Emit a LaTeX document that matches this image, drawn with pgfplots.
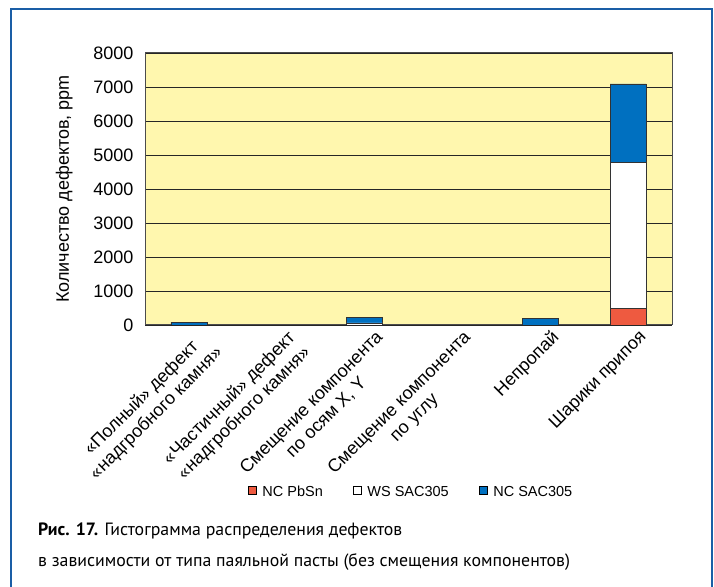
\documentclass[border=0pt]{standalone}
\usepackage{fontspec}
\setmainfont{Liberation Sans}
\newfontfamily\capfont{PT Sans}
\usepackage{pgfplots}
\pgfplotsset{compat=1.18}
\definecolor{bg}{HTML}{FFF7AE}
\definecolor{cred}{HTML}{EE5A40}
\definecolor{cblue}{HTML}{0070C0}
\definecolor{framec}{HTML}{1A5EA6}
\pgfplotsset{sqleg/.style={legend image code/.code={\draw[##1,draw=black,line width=0.5pt] (0pt,-2pt) rectangle (8pt,6pt);}}}
\begin{document}
\begin{tikzpicture}[x=1pt,y=1pt]
\useasboundingbox (0,0) rectangle (714,586);
\fill[white] (0,0) rectangle (714,586);
\draw[framec, line width=2.5pt] (11,-10) -- (11,577) -- (712,577) -- (712,-10);
\begin{axis}[
  at={(145pt,261pt)}, anchor=south west,
  scale only axis, width=527pt, height=272pt,
  xmin=-0.5, xmax=5.5, ymin=0, ymax=8000,
  ytick={0,1000,...,8000},
  xtick={0,...,5},
  xticklabels={{«Полный» дефект\\«надгробного камня»},{«Частичный» дефект\\«надгробного камня»},{Смещение компонента\\по осям X, Y},{Смещение компонента\\по углу},{Непропай},{Шарики припоя}},
  xticklabel style={xshift=10pt, yshift=-4pt, rotate=45, anchor=north east, align=center, font=\fontsize{18}{21}\selectfont, inner sep=0pt},
  yticklabel style={font=\fontsize{18}{20}\selectfont},
  /pgf/number format/assume math mode=true,
  /pgf/number format/1000 sep={},
  yticklabel shift=8pt,
  major tick length=0pt,
  ylabel={Количество дефектов, ppm},
  every axis y label/.style={at={(ticklabel cs:0.5,14pt)}, rotate=90, anchor=near ticklabel, font=\fontsize{18}{20}\selectfont},
  axis background/.style={fill=bg},
  axis line style={draw=black!70, line width=1pt},
  ymajorgrids, major grid style={draw=black!85, line width=0.8pt},
  ybar stacked, bar width=36pt,
  legend style={at={(0.505,-0.614)}, anchor=center, draw=none, fill=none, legend columns=3, font=\fontsize{14.5}{18}\selectfont, /tikz/every even column/.append style={column sep=28pt}, /tikz/every odd column/.append style={column sep=4pt}, legend cell align=left},
]
\addplot[fill=cred, draw=black!80, line width=0.6pt, sqleg] coordinates {(0,0) (1,0) (2,0) (3,0) (4,0) (5,500)};
\addplot[fill=white, draw=black!80, line width=0.6pt, sqleg] coordinates {(0,0) (1,0) (2,60) (3,0) (4,0) (5,4290)};
\addplot[fill=cblue, draw=black!80, line width=0.6pt, sqleg] coordinates {(0,80) (1,0) (2,170) (3,0) (4,190) (5,2300)};
\legend{NC PbSn, WS SAC305, NC SAC305}
\end{axis}
\node[anchor=base west, inner sep=0, font=\capfont\fontsize{17.8}{20}\selectfont] at (38,51) {\textbf{Рис. 17.} Гистограмма распределения дефектов};
\node[anchor=base west, inner sep=0, font=\capfont\fontsize{17.8}{20}\selectfont] at (38,20) {в зависимости от типа паяльной пасты (без смещения компонентов)};
\end{tikzpicture}
\end{document}
